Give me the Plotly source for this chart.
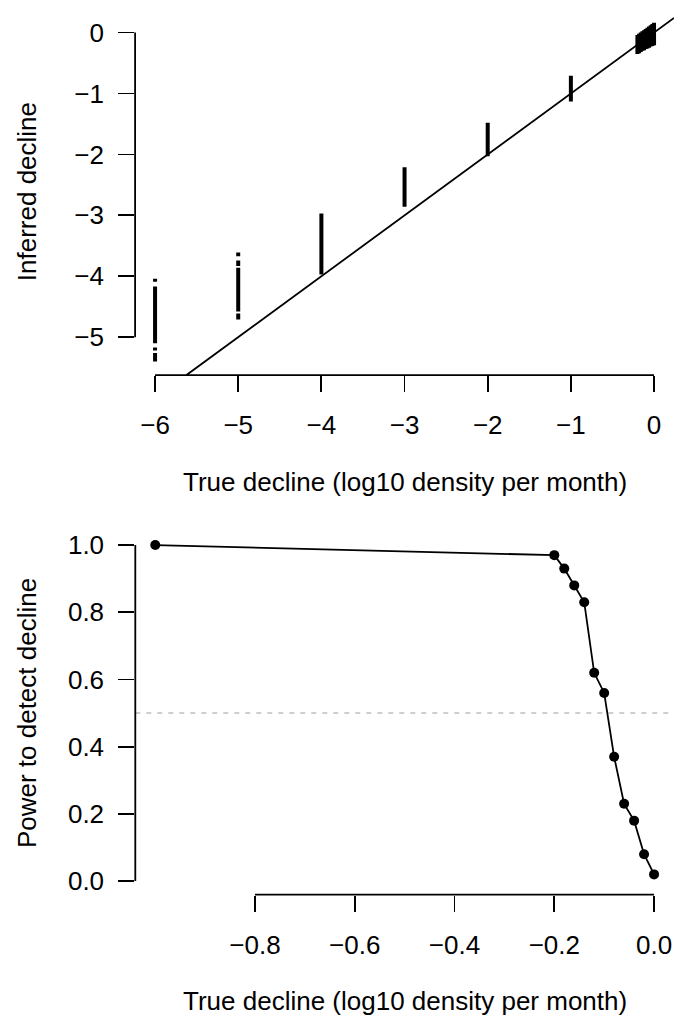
import plotly.graph_objects as go

W, H = 674, 1021

# ---------------- data: top panel ----------------
true_decline_large = [-6, -5, -4, -3, -2, -1]
# runs of inferred estimates (top, bottom) for each true decline
inferred_runs_large = [
    [(-4.04, -4.09), (-4.17, -5.10), (-5.17, -5.22), (-5.26, -5.40)],
    [(-3.61, -3.67), (-3.74, -3.83), (-3.86, -4.58), (-4.61, -4.71)],
    [(-2.97, -3.97)],
    [(-2.21, -2.86)],
    [(-1.48, -2.03)],
    [(-0.71, -1.13)],
]
true_decline_small = [-0.20, -0.18, -0.16, -0.14, -0.12, -0.10, -0.08, -0.06, -0.04, -0.02, 0.00]
inferred_small_high = [-0.04, -0.02, 0.00, 0.02, 0.04, 0.06, 0.08, 0.10, 0.12, 0.14, 0.16]
inferred_small_low = [-0.35, -0.34, -0.32, -0.30, -0.29, -0.27, -0.26, -0.25, -0.23, -0.22, -0.21]

top_xticks = [-6, -5, -4, -3, -2, -1, 0]
top_xticklabels = ["\u22126", "\u22125", "\u22124", "\u22123", "\u22122", "\u22121", "0"]
top_yticks = [0, -1, -2, -3, -4, -5]
top_yticklabels = ["0", "\u22121", "\u22122", "\u22123", "\u22124", "\u22125"]

# ---------------- data: bottom panel ----------------
power_true = [-1.00, -0.20, -0.18, -0.16, -0.14, -0.12, -0.10, -0.08, -0.06, -0.04, -0.02, 0.00]
power = [1.00, 0.97, 0.93, 0.88, 0.83, 0.62, 0.56, 0.37, 0.23, 0.18, 0.08, 0.02]
power_threshold = 0.5
power_ylim = [0.0, 1.0]

bot_xticks = [-0.8, -0.6, -0.4, -0.2, 0.0]
bot_xticklabels = ["\u22120.8", "\u22120.6", "\u22120.4", "\u22120.2", "0.0"]
bot_yticks = [0.0, 0.2, 0.4, 0.6, 0.8, 1.0]
bot_yticklabels = ["0.0", "0.2", "0.4", "0.6", "0.8", "1.0"]

xlab = "True decline (log10 density per month)"
ylab_top = "Inferred decline"
ylab_bot = "Power to detect decline"

# ---------------- layout constants (pixels) ----------------
FONT = "Liberation Sans, Arial, Helvetica, sans-serif"
FS = 26
LW = 1.8
TICKLEN = 16

TOP_PX_X = (135.1, 674.0)
TOP_PX_Y = (8.3, 375.2)
BOT_PX_X = (135.3, 674.0)
BOT_PX_Y = (532.2, 896.2)
XLAB_PX_Y = (482, 1003)
YLAB_PX_X = 27


def r_range(lo, hi):
    d = (hi - lo) * 0.04
    return [lo - d, hi + d]


def px_dom_x(px):
    return [px[0] / W, min(1.0, px[1] / W)]


def px_dom_y(px):
    return [1 - px[1] / H, 1 - px[0] / H]


def to_paper(v, rng, dom):
    return dom[0] + (v - rng[0]) / (rng[1] - rng[0]) * (dom[1] - dom[0])


# ranges
all_x_top = true_decline_large + true_decline_small
all_y_top = [v for runs in inferred_runs_large for r in runs for v in r] + inferred_small_high + inferred_small_low
top_xr = r_range(min(all_x_top), max(all_x_top))
top_yr = r_range(min(all_y_top), max(all_y_top))
bot_xr = r_range(min(power_true), max(power_true))
bot_yr = r_range(power_ylim[0], power_ylim[1])

top_xd, top_yd = px_dom_x(TOP_PX_X), px_dom_y(TOP_PX_Y)
bot_xd, bot_yd = px_dom_x(BOT_PX_X), px_dom_y(BOT_PX_Y)

fig = go.Figure()

# bars of estimates
bx, by = [], []
for xv, runs in zip(true_decline_large, inferred_runs_large):
    for hi, lo in runs:
        bx += [xv, xv, None]
        by += [hi, lo, None]
for xv, lo, hi in zip(true_decline_small, inferred_small_low, inferred_small_high):
    bx += [xv, xv, None]
    by += [lo, hi, None]
fig.add_trace(go.Scatter(x=bx, y=by, mode="lines", line=dict(color="black", width=4),
                         xaxis="x", yaxis="y", hoverinfo="skip", showlegend=False))

# 1:1 line clipped to the plotting region
lo1 = max(top_xr[0], top_yr[0])
hi1 = min(top_xr[1], top_yr[1])
fig.add_trace(go.Scatter(x=[lo1, hi1], y=[lo1, hi1], mode="lines", line=dict(color="black", width=LW),
                         xaxis="x", yaxis="y", hoverinfo="skip", showlegend=False))

# power curve
fig.add_trace(go.Scatter(x=power_true, y=power, mode="lines+markers",
                         line=dict(color="black", width=LW),
                         marker=dict(color="black", size=10),
                         xaxis="x2", yaxis="y2", hoverinfo="skip", showlegend=False))

axis_common = dict(showline=False, showgrid=False, zeroline=False, ticks="outside",
                   ticklen=TICKLEN, tickwidth=LW, tickcolor="black",
                   tickfont=dict(family=FONT, size=FS, color="black"))

fig.update_layout(
    width=W, height=H,
    margin=dict(l=0, r=0, t=0, b=0),
    paper_bgcolor="white", plot_bgcolor="white",
    font=dict(family=FONT, size=FS, color="black"),
    xaxis=dict(domain=top_xd, range=top_xr, anchor="y", tickvals=top_xticks, ticktext=top_xticklabels,
               ticklabelstandoff=11, **axis_common),
    yaxis=dict(domain=top_yd, range=top_yr, anchor="x", tickvals=top_yticks, ticktext=top_yticklabels,
               ticklabelstandoff=9, **axis_common),
    xaxis2=dict(domain=bot_xd, range=bot_xr, anchor="y2", tickvals=bot_xticks, ticktext=bot_xticklabels,
                ticklabelstandoff=11, **axis_common),
    yaxis2=dict(domain=bot_yd, range=bot_yr, anchor="x2", tickvals=bot_yticks, ticktext=bot_yticklabels,
                ticklabelstandoff=9, **axis_common),
)

shapes = []
# R-style axis lines spanning first..last tick
for xt, xr, xd, yd in [(top_xticks, top_xr, top_xd, top_yd), (bot_xticks, bot_xr, bot_xd, bot_yd)]:
    shapes.append(dict(type="line", xref="paper", yref="paper",
                       x0=to_paper(min(xt), xr, xd), x1=to_paper(max(xt), xr, xd),
                       y0=yd[0], y1=yd[0], line=dict(color="black", width=LW)))
for yt, yr, xd, yd in [(top_yticks, top_yr, top_xd, top_yd), (bot_yticks, bot_yr, bot_xd, bot_yd)]:
    shapes.append(dict(type="line", xref="paper", yref="paper",
                       x0=xd[0], x1=xd[0],
                       y0=to_paper(min(yt), yr, yd), y1=to_paper(max(yt), yr, yd),
                       line=dict(color="black", width=LW)))
# 50% power reference line
shapes.append(dict(type="line", xref="paper", yref="y2", x0=bot_xd[0], x1=bot_xd[1],
                   y0=power_threshold, y1=power_threshold, layer="below",
                   line=dict(color="#BEBEBE", width=1.5, dash="5px,6px")))
fig.update_layout(shapes=shapes)

ann = []
for xd, ypx in zip([top_xd, bot_xd], XLAB_PX_Y):
    ann.append(dict(text=xlab, xref="paper", yref="paper", x=(xd[0] + xd[1]) / 2, y=1 - ypx / H,
                    xanchor="center", yanchor="middle", showarrow=False,
                    font=dict(family=FONT, size=FS, color="black")))
for txt, yd in [(ylab_top, top_yd), (ylab_bot, bot_yd)]:
    ann.append(dict(text=txt, xref="paper", yref="paper", x=YLAB_PX_X / W, y=(yd[0] + yd[1]) / 2,
                    xanchor="center", yanchor="middle", textangle=-90, showarrow=False,
                    font=dict(family=FONT, size=FS, color="black")))
fig.update_layout(annotations=ann)

fig.write_html("out.html",
               config={"displayModeBar": False, "staticPlot": True},
               post_script="document.body.style.margin='0';document.body.style.padding='0';"
                           "document.body.style.overflow='hidden';")
